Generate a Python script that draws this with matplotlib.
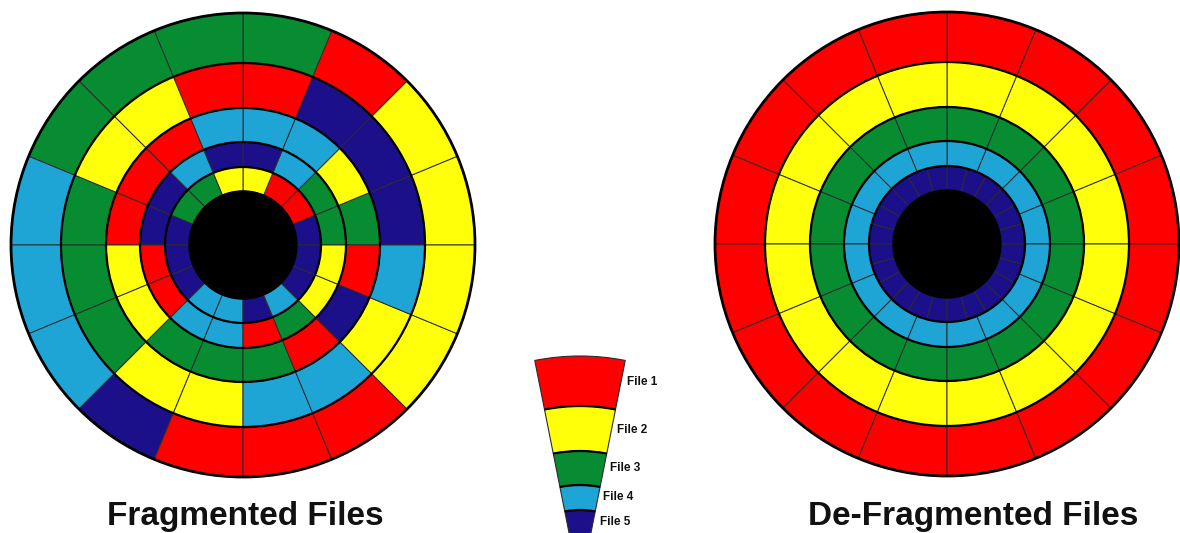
import matplotlib.pyplot as plt
from matplotlib.patches import Wedge, Circle, Arc

# file colours, File 1 .. File 5
FILE_COLORS = ['#ff0000', '#ffff0a', '#078c32', '#1ea5d6', '#1c0f8a']
FILE_LABELS = ['File 1', 'File 2', 'File 3', 'File 4', 'File 5']

# fragmented disk: file number of each 22.5 deg sector,
# counter-clockwise starting at east, outer ring first
FRAG_RING1 = [2, 2, 1, 3, 3, 3, 3, 4, 4, 4, 5, 1, 1, 1, 2, 2]
FRAG_RING2 = [5, 5, 5, 1, 1, 2, 2, 3, 3, 3, 2, 2, 4, 4, 2, 4]
FRAG_RING3 = [3, 2, 4, 4, 4, 1, 1, 1, 2, 2, 3, 3, 3, 1, 5, 1]
FRAG_RING4 = [3, 3, 4, 5, 5, 4, 5, 5, 1, 1, 4, 4, 1, 3, 2, 2]
FRAG_RING5 = [5, 1, 1, 2, 2, 3, 3, 5, 5, 5, 4, 4, 5, 4, 5, 5]

# de-fragmented disk: one file per ring, outer ring first
DEFRAG_FILES = [1, 2, 3, 4, 5]
DEFRAG_SECTORS = [16, 16, 16, 16, 24]

TITLES = ['Fragmented Files', 'De-Fragmented Files']

W, H = 1180, 533
RADII = [232, 182, 137, 103, 78, 54]


def yy(y_img):
    return H - y_img


def draw_ring(ax, center, r_out, r_in, files, theta0=0.0, span=360.0):
    step = span / len(files)
    for k, f in enumerate(files):
        ax.add_patch(Wedge(center, r_out, theta0 + k * step, theta0 + (k + 1) * step,
                           width=r_out - r_in, facecolor=FILE_COLORS[f - 1],
                           edgecolor='#2b2b2b', linewidth=0.7))


def draw_disk(ax, center, rings):
    for i, files in enumerate(rings):
        draw_ring(ax, center, RADII[i], RADII[i + 1], files)
    ax.add_patch(Circle(center, RADII[-1], facecolor='black', edgecolor='black'))
    for i, r in enumerate(RADII[1:-1]):
        ax.add_patch(Circle(center, r, fill=False, edgecolor='black', linewidth=1.6))
    ax.add_patch(Circle(center, RADII[0], fill=False, edgecolor='black', linewidth=2.0))


fig = plt.figure(figsize=(W / 100, H / 100), dpi=100)
ax = fig.add_axes([0, 0, 1, 1])
ax.set_xlim(0, W)
ax.set_ylim(0, H)
ax.axis('off')

# left: fragmented
frag = [FRAG_RING1, FRAG_RING2, FRAG_RING3, FRAG_RING4, FRAG_RING5]
draw_disk(ax, (243, yy(245)), frag)

# right: de-fragmented
defrag = [[f] * n for f, n in zip(DEFRAG_FILES, DEFRAG_SECTORS)]
draw_disk(ax, (947, yy(244)), defrag)

# legend wedge (a single sector of the disk)
apex = (580, yy(588))
for i, f in enumerate(DEFRAG_FILES):
    ax.add_patch(Wedge(apex, RADII[i], 78.75, 101.25, width=RADII[i] - RADII[i + 1],
                       facecolor=FILE_COLORS[f - 1], edgecolor='#2b2b2b', linewidth=0.8))
for r in RADII[1:-1]:
    ax.add_patch(Arc(apex, 2 * r, 2 * r, theta1=78.75, theta2=101.25,
                     edgecolor='black', linewidth=1.6))

label_pos = [(627, 382), (617, 430), (610, 468), (603, 497), (600, 522)]
for lab, (x, y) in zip(FILE_LABELS, label_pos):
    ax.text(x, yy(y), lab, fontsize=8.5, fontweight='bold', family='Liberation Sans',
            ha='left', va='center', color='#111111')

ax.text(245, yy(525), TITLES[0], fontsize=24, fontweight='bold',
        family='Liberation Sans', ha='center', va='baseline', color='#111111')
ax.text(973, yy(525), TITLES[1], fontsize=24, fontweight='bold',
        family='Liberation Sans', ha='center', va='baseline', color='#111111')

fig.savefig('out.png', dpi=100)
